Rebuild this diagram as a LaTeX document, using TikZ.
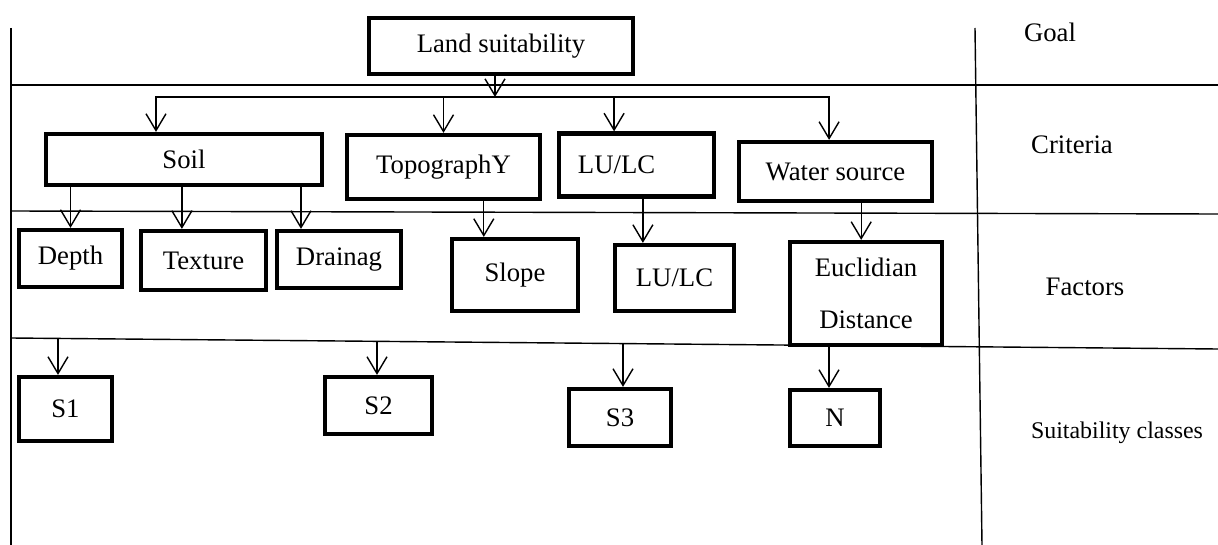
\documentclass[tikz,border=0pt]{standalone}
\usepackage{fontspec}
\setmainfont{Liberation Serif}
\usepackage{tikz}
\usetikzlibrary{arrows.meta}

\begin{document}
\begin{tikzpicture}[x=0.025cm,y=-0.025cm]
		\tikzstyle{level-box}=[draw,line width=3pt,inner sep=2pt,font=\fontsize{19}{23}\selectfont]
		\tikzstyle{level-name}=[font=\fontsize{19}{23}\selectfont]
		\tikzstyle{frame-line}=[line width=1pt]
		\tikzstyle{mapsto}=[-{Straight Barb[length=0.42cm,width=0.5cm]},line width=1pt]
		\tikzset{boxsize/.style 2 args={minimum width=#1*0.025cm,minimum height=#2*0.025cm}}
		\useasboundingbox (0,0) rectangle (1218,545);
		% frame
		\draw [frame-line] (11,28) -- (11,545);
		\draw [frame-line] (975,28) -- (982,545);
		\draw [frame-line] (11,85) -- (1218,85);
		\draw [frame-line] (11,211) -- (1218,214);
		\draw [frame-line] (11,338) -- (1218,349);
		% goal
		\node [level-box,boxsize={264}{56}] at (501,46) (land) {Land suitability};
		\node [level-name] at (1050,32) (goal) {Goal};
		% criteria
		\node [level-box,boxsize={276}{51}] at (184,159.5) (soil) {Soil};
		\node [level-box,boxsize={193}{64}] at (443.5,167) (topo) {TopographY};
		\node [level-box,boxsize={155}{63},align=left,text width=2.925cm,inner xsep=0.475cm] at (636.5,165) (lulc) {LU/LC};
		\node [level-box,boxsize={193}{59}] at (835.5,171.5) (water) {Water source};
		\node [level-name] at (1072,145) (criteria) {Criteria};
		% factors
		\node [level-box,boxsize={103}{57}] at (70.5,258.5) (depth) {Depth};
		\node [level-box,boxsize={125}{59}] at (203.5,260.5) (texture) {Texture};
		\node [level-box,boxsize={124}{57}] at (339,259.5) (drainag) {Drainag};
		\node [level-box,boxsize={126}{72}] at (515,275) (slope) {Slope};
		\node [level-box,boxsize={119}{66}] at (674.5,278) (lulcf) {LU/LC};
		\node [level-box,boxsize={152}{103},align=center,font=\fontsize{19}{37}\selectfont] at (866,293.5) (euclid) {Euclidian\\Distance};
		\node [level-name] at (1085,287) (factors) {Factors};
		% suitability classes
		\node [level-box,boxsize={93}{64}] at (65.5,409) (s1) {S1};
		\node [level-box,boxsize={107}{57}] at (378.5,405.5) (s2) {S2};
		\node [level-box,boxsize={102}{57}] at (620,417.5) (s3) {S3};
		\node [level-box,boxsize={90}{56}] at (835,418) (n) {N};
		\node [level-name,font=\fontsize{17}{20}\selectfont] at (1117,433) (classes) {Suitability classes};
		% goal to criteria
		\coordinate (split) at (495,97);
		\draw [mapsto] (land.south -| split) -- (split);
		\draw [mapsto] (split) -| ([xshift=-0.7cm]soil.north);
		\draw [mapsto] (split) -| (topo.north);
		\draw [mapsto] (split) -| ([xshift=-0.56cm]lulc.north);
		\draw [mapsto] (split) -| ([xshift=-0.16cm]water.north);
		% criteria to factors
		\draw [mapsto] (soil.south -| depth.north) -- (depth.north);
		\draw [mapsto] ([xshift=-0.54cm]texture.north |- soil.south) -- ([xshift=-0.54cm]texture.north);
		\draw [mapsto] ([xshift=-0.95cm]drainag.north |- soil.south) -- ([xshift=-0.95cm]drainag.north);
		\draw [mapsto] ([xshift=-0.78cm]slope.north |- topo.south) -- ([xshift=-0.78cm]slope.north);
		\draw [mapsto] ([xshift=-0.79cm]lulcf.north |- lulc.south) -- ([xshift=-0.79cm]lulcf.north);
		\draw [mapsto] ([xshift=-0.12cm]euclid.north |- water.south) -- ([xshift=-0.12cm]euclid.north);
		% factors to classes
		\coordinate (c1) at (58,338.5);
		\coordinate (c2) at (377,341.5);
		\coordinate (c3) at (623,343.5);
		\coordinate (c4) at (829,345.5);
		\draw [mapsto] (c1) -- (c1 |- s1.north);
		\draw [mapsto] (c2) -- (c2 |- s2.north);
		\draw [mapsto] (c3) -- (c3 |- s3.north);
		\draw [mapsto] (c4) -- (c4 |- n.north);
	\end{tikzpicture}
\end{document}
